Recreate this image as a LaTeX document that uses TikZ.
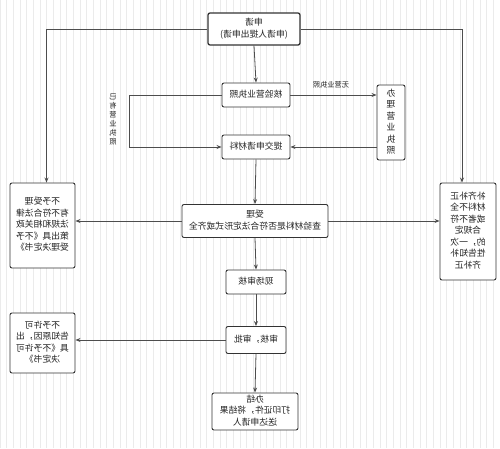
\documentclass[tikz,border=0pt]{standalone}
\usepackage{fontspec}
\usepackage{graphicx}
\newfontfamily\cjk{Noto Sans CJK SC}
\usetikzlibrary{arrows.meta,calc}
\definecolor{boxc}{HTML}{333333}
\definecolor{linec}{HTML}{4D4D4D}
\definecolor{txtc}{HTML}{222222}
\definecolor{gridc}{HTML}{EBEBEB}
\newcommand{\mt}[1]{\reflectbox{\begin{tabular}{@{}c@{}}#1\end{tabular}}}
\tikzset{
  box/.style={draw=boxc, line width=0.9pt, rounded corners=2pt, fill=white, align=center,
    inner sep=0pt, font=\cjk\fontsize{8.8}{11.5}\selectfont, text=txtc},
  conn/.style={draw=linec, line width=0.8pt, -{Stealth[length=5pt,width=4pt]}},
  lbl/.style={font=\cjk\fontsize{7.2}{9}\selectfont, text=txtc, inner sep=0pt}
}
\begin{document}
\begin{tikzpicture}[x=1pt,y=-1pt]
\useasboundingbox (0,0) rectangle (500,448);
\fill[white] (0,0) rectangle (500,448);
\draw[gridc, line width=0.4pt, step=6.6667] (0,0) grid (500,448);

\node[box, line width=1.3pt, minimum width=92pt, minimum height=32pt] (apply) at (254,29) {\mt{申请\\(申请人提出申请)}};
\node[box, minimum width=68pt, minimum height=24pt] (verify) at (256,95) {\mt{核验营业执照}};
\node[box, minimum width=68pt, minimum height=24pt] (submit) at (256,147) {\mt{提交申请材料}};
\node[box, minimum width=28pt, minimum height=75pt] (license) at (391,122.5) {\mt{办\\理\\营\\业\\执\\照}};
\node[box, minimum width=146pt, minimum height=33pt] (accept) at (255,221) {\mt{受理\\查验材料是否符合法定形式或齐全}};
\node[box, minimum width=65pt, minimum height=85pt] (reject) at (42.5,225.5) {\mt{不予受理\\有不符合法律\\法规和相关政\\策出具《不予\\受理决定书》}};
\node[box, minimum width=56pt, minimum height=97pt] (suppl) at (468,231.5) {\mt{补齐补正\\材料不全\\或者不符\\合规定\\的，一次\\性告知补\\齐补正}};
\node[box, minimum width=60pt, minimum height=24pt] (onsite) at (256,282) {\mt{现场审核}};
\node[box, minimum width=60pt, minimum height=27pt] (review) at (256,340) {\mt{审核，审批}};
\node[box, minimum width=65pt, minimum height=60pt] (noperm) at (42.5,343) {\mt{不予许可\\告知原因，出\\具《不予许可\\决定书》}};
\node[box, minimum width=86pt, minimum height=37pt] (done) at (255,411.5) {\mt{办结\\打印证件，将结果\\送达申请人}};

\node[lbl] (nolic) at (331,85) {\reflectbox{无营业执照}};
\node[lbl] (haslic) at (113,120) {\reflectbox{\begin{tabular}{@{}c@{}}已\\有\\营\\业\\执\\照\end{tabular}}};

\coordinate (lc) at (46.5,0);
\coordinate (rc) at (462,0);
\coordinate (lcol) at (129,0);

\draw[conn] (apply.west) -| (lc |- reject.north);
\draw[conn] (apply.east) -| (rc |- suppl.north);
\draw[conn] (apply.south) -- (verify.north);
\draw[conn] (verify.east) -- (verify.east -| license.west);
\draw[conn] (verify.west) -| (lcol |- submit.west) -- (submit.west);
\draw[conn] (submit.east -| license.west) -- (submit.east);
\draw[conn] (submit.south) -- (accept.north);
\draw[conn] (accept.west) -- (accept.west -| reject.east);
\draw[conn] (accept.east) -- (accept.east -| suppl.west);
\draw[conn] (accept.south) -- (onsite.north);
\draw[conn] (onsite.south) -- (review.north);
\draw[conn] (review.west) -- (review.west -| noperm.east);
\draw[conn] (review.south) -- (done.north);
\end{tikzpicture}
\end{document}
